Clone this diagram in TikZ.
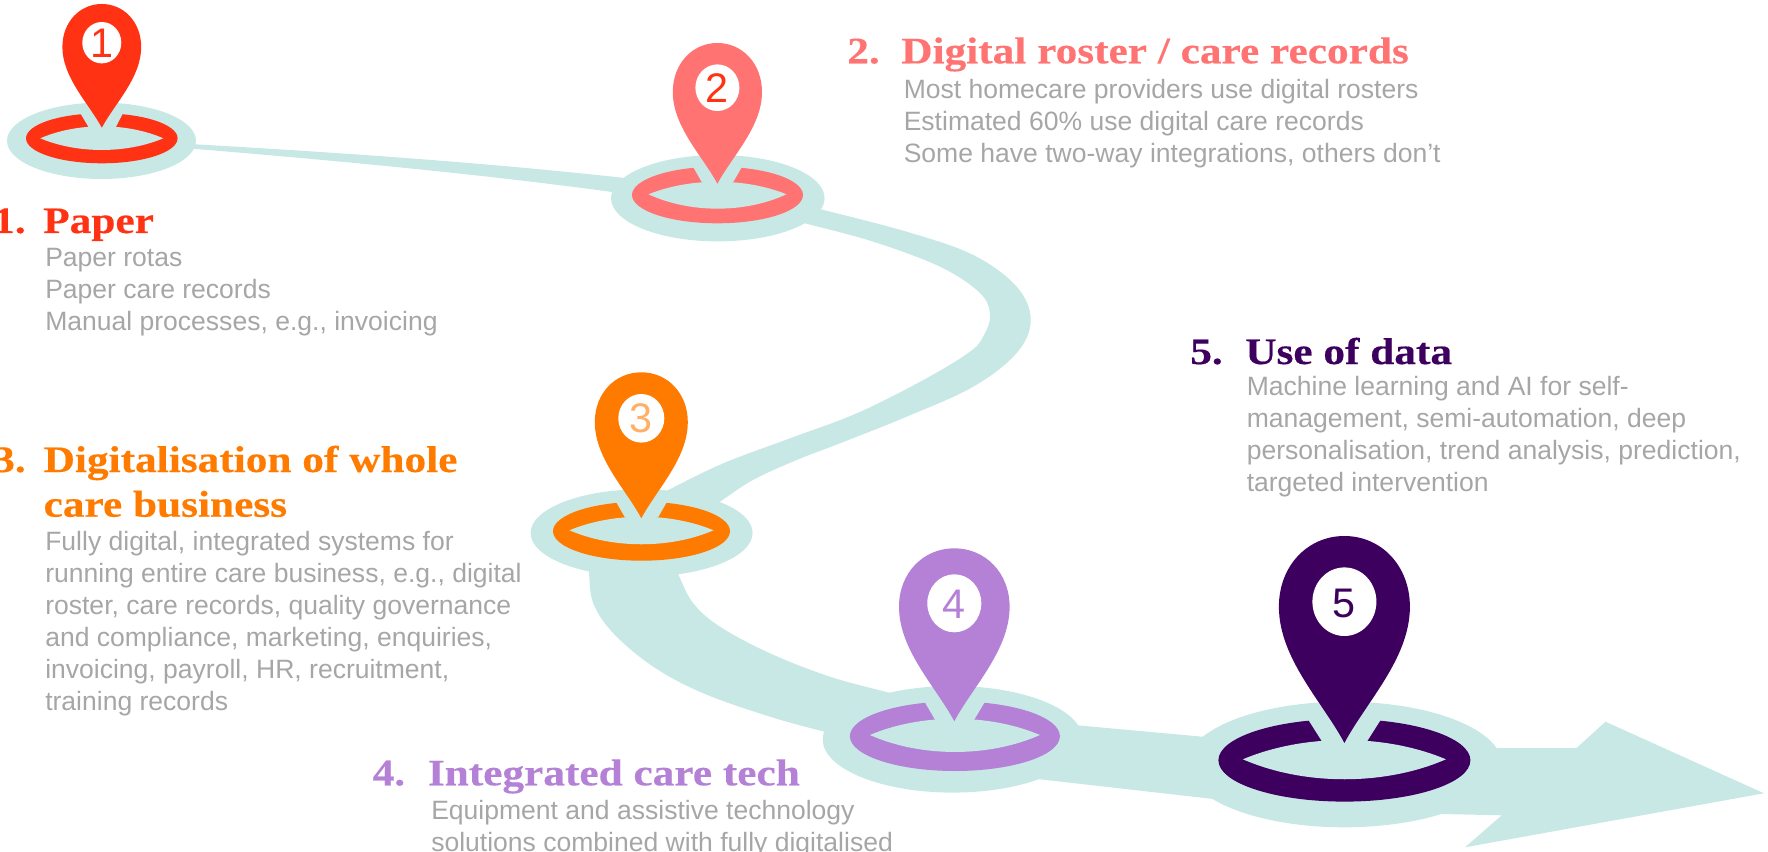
\documentclass[tikz,border=0pt]{standalone}
\usepackage{fontspec}
\setmainfont{Liberation Sans}
\newfontfamily\headfont[FakeBold=0.4,FakeStretch=1.16]{Liberation Serif Bold}
\definecolor{teal}{HTML}{C8E8E6}
\definecolor{cred}{HTML}{FF3314}
\definecolor{cpink}{HTML}{FF7373}
\definecolor{corange}{HTML}{FF7B00}
\definecolor{clight}{HTML}{FFB066}
\definecolor{clilac}{HTML}{B481D6}
\definecolor{cpurple}{HTML}{3D005E}
\definecolor{cgray}{HTML}{A6A6A6}
\tikzset{
  road/.style={fill=teal,draw=none},
  bodytext/.style={anchor=north west,inner sep=0pt,align=left,text=cgray,font=\fontsize{19.9}{24}\selectfont},
  headtext/.style={anchor=base west,inner sep=0pt,align=left,font=\fontsize{28}{33.5}\selectfont\headfont},
  digit/.style={inner sep=0pt,font=\fontsize{31}{31}\selectfont}
}
% #1 cx  #2 color  #3 top y  #4 widest y  #5 half width  #6 tip y
% #7 hole y  #8 hole rx  #9 hole ry
\newcommand{\pinshape}[9]{%
  \fill[#2] (#1,#6)
    .. controls ({#1-0.33*#5},{#6-0.30*(#6-#4)}) and ({#1-#5},{#6-0.62*(#6-#4)}) .. ({#1-#5},#4)
    .. controls ({#1-#5},{#4-0.58*(#4-#3)}) and ({#1-0.56*#5},#3) .. (#1,#3)
    .. controls ({#1+0.56*#5},#3) and ({#1+#5},{#4-0.58*(#4-#3)}) .. ({#1+#5},#4)
    .. controls ({#1+#5},{#6-0.62*(#6-#4)}) and ({#1+0.33*#5},{#6-0.30*(#6-#4)}) .. (#1,#6) -- cycle;
  \fill[white] (#1,#7) ellipse [x radius=#8,y radius=#9];
}
% #1 cx #2 color #3 ring y #4 ring rx #5 ring ry #6 lens half width #7 lens point y #8 lens up #9 lens down
\newcommand{\ringshape}[9]{%
  \fill[#2] (#1,#3) ellipse [x radius=#4,y radius=#5];
  \fill[teal] ({#1-#6},#7)
    .. controls ({#1-0.4*#6},{#7-1.33*#8}) and ({#1+0.4*#6},{#7-1.33*#8}) .. ({#1+#6},#7)
    .. controls ({#1+0.4*#6},{#7+1.33*#9}) and ({#1-0.4*#6},{#7+1.33*#9}) .. ({#1-#6},#7) -- cycle;
}
\begin{document}
\begin{tikzpicture}[x=0.75pt,y=-0.75pt]
\useasboundingbox (0,0) rectangle (1768,852);
\clip (0,0) rectangle (1768,852);
% road
\fill[road] (190,144) .. controls (330,152) and (480,162) .. (625,178)
  -- (612,192) .. controls (480,174) and (330,160) .. (190,148.5) -- cycle;
\fill[road] plot [smooth,tension=0.6] coordinates {(805,205) (821,209.3) (906.7,231.7) (973.3,255) (1016.7,286.7) (1030.7,320) (1016.7,353) (973.3,386.7) (906.7,416.7) (840,443.3) (796.7,460) (753,480) (720,501.7) (700,515)}
  -- plot [smooth,tension=0.6] coordinates {(650,500) (668.3,490) (723.3,463.3) (790,438.3) (856.7,413.3) (923.3,380) (970,351.7) (984,335) (990,315) (980,293) (940,266.7) (873.3,241.7) (805,223.3) (790,219)} -- cycle;
\fill[road] plot [smooth,tension=0.6] coordinates {(588,555) (589,573.3) (593.3,603.3) (613.3,633.3) (653.3,666.7) (703.3,693.3) (770,716.7) (824.3,731.7) (850,738)}
  -- plot [smooth,tension=0.6] coordinates {(915,700) (889,692.7) (830,676.7) (770,653.3) (720,626.7) (693.3,603.3) (679,576) (672,560)} -- cycle;
\fill[road] (1060,723.7) -- (1081.7,725.7) -- (1202.7,736.7) -- (1240,740)
  -- (1240,802) -- (1213.3,799) -- (1040,779.3) -- (1020,775) -- cycle;
\fill[road] (1480,748) -- (1576.5,748) -- (1605.5,721.7) -- (1764,793.3)
  -- (1465,847.3) -- (1501.7,815.3) -- (1441.7,814) -- cycle;
% stations
\fill[teal] (101.5,140.8) ellipse [x radius=94.5,y radius=38.2];
\fill[teal] (717.8,198.2) ellipse [x radius=106.8,y radius=43.2];
\fill[teal] (641.6,533) ellipse [x radius=111,y radius=43.7];
\fill[teal] (952.7,739.3) ellipse [x radius=130,y radius=53.3];
\fill[teal] (1344.3,764.5) ellipse [x radius=157.7,y radius=62.8];
% rings
\ringshape{101.8}{cred}{138.3}{75.8}{25}{61.5}{138.3}{12}{11.7}
\fill[teal] (79.6,112) -- (88.8,127.5) -- (115.6,127.5) -- (123.6,112) -- cycle;
\ringshape{717.5}{cpink}{195}{85.5}{28.3}{69}{194.3}{12.6}{14.4}
\fill[teal] (692,165) -- (702,182.5) -- (733,182.5) -- (743,165) -- cycle;
\ringshape{641.5}{corange}{531.2}{88.5}{29.5}{72}{530.3}{13.6}{14}
\fill[teal] (615,500) -- (625,517.5) -- (658,517.5) -- (668,500) -- cycle;
\ringshape{954.9}{clilac}{736.2}{105}{34.8}{85}{735}{16.3}{17}
\fill[teal] (923.5,700) -- (935.2,720) -- (974,720) -- (986,700) -- cycle;
\ringshape{1344.4}{cpurple}{760.3}{126}{41.3}{101.5}{759.3}{19.3}{20}
\fill[teal] (1306.5,717) -- (1321.7,741) -- (1367.3,741) -- (1382.5,717) -- cycle;
% pins
\pinshape{101.8}{cred}{4}{47}{39.4}{127.7}{42.7}{19.5}{20.7}
\node[digit,text=cred] (d1) at (101.8,43.5) {1};
\pinshape{717.4}{cpink}{43}{92}{44.6}{183.7}{87.7}{22}{23.3}
\node[digit,text=cred] (d2) at (717.4,88.5) {2};
\pinshape{641.3}{corange}{372.3}{422}{46.5}{518.3}{418.3}{23}{24.3}
\node[digit,text=clight] (d3) at (641.3,418.5) {3};
\pinshape{954.3}{clilac}{548.3}{606.7}{55.3}{721.3}{603.3}{27}{29}
\node[digit,text=clilac] (d4) at (954.3,604) {4};
\pinshape{1344.4}{cpurple}{536}{606.7}{65.5}{743}{601.7}{32}{34.3}
\node[digit,text=cpurple] (d5) at (1344.4,603) {5};
% texts
\node[headtext,text=cred] (n1) at (-7,233) {1.};
\node[headtext,text=cred] (h1) at (43,233) {Paper};
\node[bodytext] (b1) at (45,244.2) {\strut Paper rotas\\Paper care records\\Manual processes, e.g., invoicing};
\node[headtext,text=cpink] (n2) at (847,63.3) {2.};
\node[headtext,text=cpink] (h2) at (901,63.3) {Digital roster / care records};
\node[bodytext] (b2) at (903.5,75.5) {\strut Most homecare providers use digital rosters\\Estimated 60\% use digital care records\\Some have two-way integrations, others don’t};
\node[headtext,text=corange] (n3) at (-7,472) {3.};
\node[headtext,text=corange] (h3a) at (43.4,472) {Digitalisation of whole};
\node[headtext,text=corange] (h3b) at (43.4,516.7) {care business};
\node[bodytext] (b3) at (45,528.2) {\strut Fully digital, integrated systems for\\running entire care business, e.g., digital\\roster, care records, quality governance\\and compliance, marketing, enquiries,\\invoicing, payroll, HR, recruitment,\\training records};
\node[headtext,text=clilac] (n4) at (372.4,785.3) {4.};
\node[headtext,text=clilac] (h4) at (427.6,785.3) {Integrated care tech};
\node[bodytext] (b4) at (431,796.5) {\strut Equipment and assistive technology\\solutions combined with fully digitalised};
\node[headtext,text=cpurple] (n5) at (1190,364) {5.};
\node[headtext,text=cpurple] (h5) at (1245,364) {Use of data};
\node[bodytext] (b5) at (1246.5,373.2) {\strut Machine learning and AI for self-\\management, semi-automation, deep\\personalisation, trend analysis, prediction,\\targeted intervention};
\end{tikzpicture}
\end{document}
